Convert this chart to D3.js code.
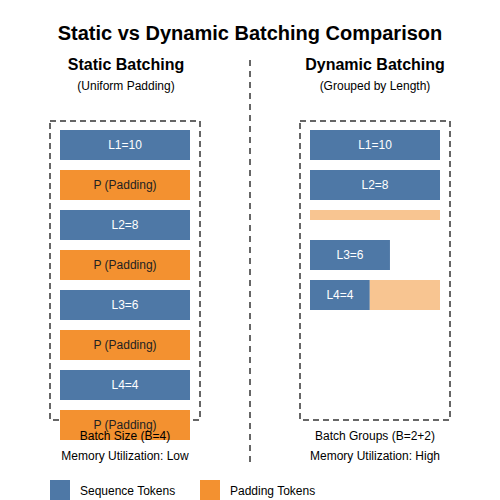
<!DOCTYPE html><html><head><script src="https://cdn.jsdelivr.net/npm/d3@7"></script>
<style>body{margin:0}text{font-family:"Liberation Sans",Arial,sans-serif}</style></head><body><svg id="c" width="500" height="500"></svg>
<script>
const staticLabels=["L1=10","P (Padding)","L2=8","P (Padding)","L3=6","P (Padding)","L4=4","P (Padding)"];
const staticTypes=["seq","pad","seq","pad","seq","pad","seq","pad"];
const dynLabels=["L1=10","L2=8","","L3=6","L4=4"];
const dynSeqLen=[10,10,0,6.15,4.6];
const dynPadLen=[0,0,10,0,5.4];
const dynRow=[0,1,2,3,4];
const blue="#4e78a6",orange="#f39130",light="#f8c591";
const svg=d3.select("#c");
svg.append("rect").attr("width",500).attr("height",500).attr("fill","#fff");
svg.append("text").attr("x",250).attr("y",40).attr("text-anchor","middle").attr("font-size",20).attr("font-weight","bold").text("Static vs Dynamic Batching Comparison");
function head(x,t,s){svg.append("text").attr("x",x).attr("y",70).attr("text-anchor","middle").attr("font-size",16).attr("font-weight","bold").text(t);
svg.append("text").attr("x",x).attr("y",90).attr("text-anchor","middle").attr("font-size",12).text(s);}
head(126,"Static Batching","(Uniform Padding)");head(375,"Dynamic Batching","(Grouped by Length)");
svg.append("line").attr("x1",250).attr("x2",250).attr("y1",60).attr("y2",466).attr("stroke","#666").attr("stroke-width",2).attr("stroke-dasharray","6,5");
[50,300].forEach(x=>svg.append("rect").attr("x",x).attr("y",121).attr("width",150).attr("height",299).attr("fill","none").attr("stroke","#666").attr("stroke-width",2).attr("stroke-dasharray","6,4"));
const yS=d3.scaleBand().domain(d3.range(8)).range([130,450]).paddingInner(0.25).paddingOuter(0);
const yS2=d3.scalePoint().domain(d3.range(8)).range([130,410]);
staticLabels.forEach((l,i)=>{const y=yS2(i);
svg.append("rect").attr("x",60).attr("y",y).attr("width",130).attr("height",30).attr("fill",staticTypes[i]=="seq"?blue:orange);
svg.append("text").attr("x",125).attr("y",y+19).attr("text-anchor","middle").attr("font-size",12).attr("fill",staticTypes[i]=="seq"?"#fff":"#222").text(l);});
const x=d3.scaleLinear().domain([0,10]).range([310,440]);
const yD=[130,170,210,240,280],hD=[30,30,10,30,30];
dynRow.forEach(i=>{const y=yD[i];
if(dynSeqLen[i]>0)svg.append("rect").attr("x",x(0)).attr("y",y).attr("width",x(dynSeqLen[i])-x(0)).attr("height",hD[i]).attr("fill",blue);
if(dynPadLen[i]>0)svg.append("rect").attr("x",x(dynSeqLen[i])).attr("y",y).attr("width",x(dynPadLen[i])-x(0)).attr("height",hD[i]).attr("fill",light);
if(dynLabels[i])svg.append("text").attr("x",(x(0)+x(dynSeqLen[i]))/2).attr("y",y+19).attr("text-anchor","middle").attr("font-size",12).attr("fill","#fff").text(dynLabels[i]);});
[[125,"Batch Size (B=4)","Memory Utilization: Low"],[375,"Batch Groups (B=2+2)","Memory Utilization: High"]].forEach(([cx,a,b])=>{
svg.append("text").attr("x",cx).attr("y",440).attr("text-anchor","middle").attr("font-size",12).text(a);
svg.append("text").attr("x",cx).attr("y",460).attr("text-anchor","middle").attr("font-size",12).text(b);});
[[50,blue,"Sequence Tokens"],[200,orange,"Padding Tokens"]].forEach(([lx,c,t])=>{
svg.append("rect").attr("x",lx).attr("y",480).attr("width",20).attr("height",20).attr("fill",c);
svg.append("text").attr("x",lx+30).attr("y",495).attr("font-size",12).text(t);});
</script></body></html>
